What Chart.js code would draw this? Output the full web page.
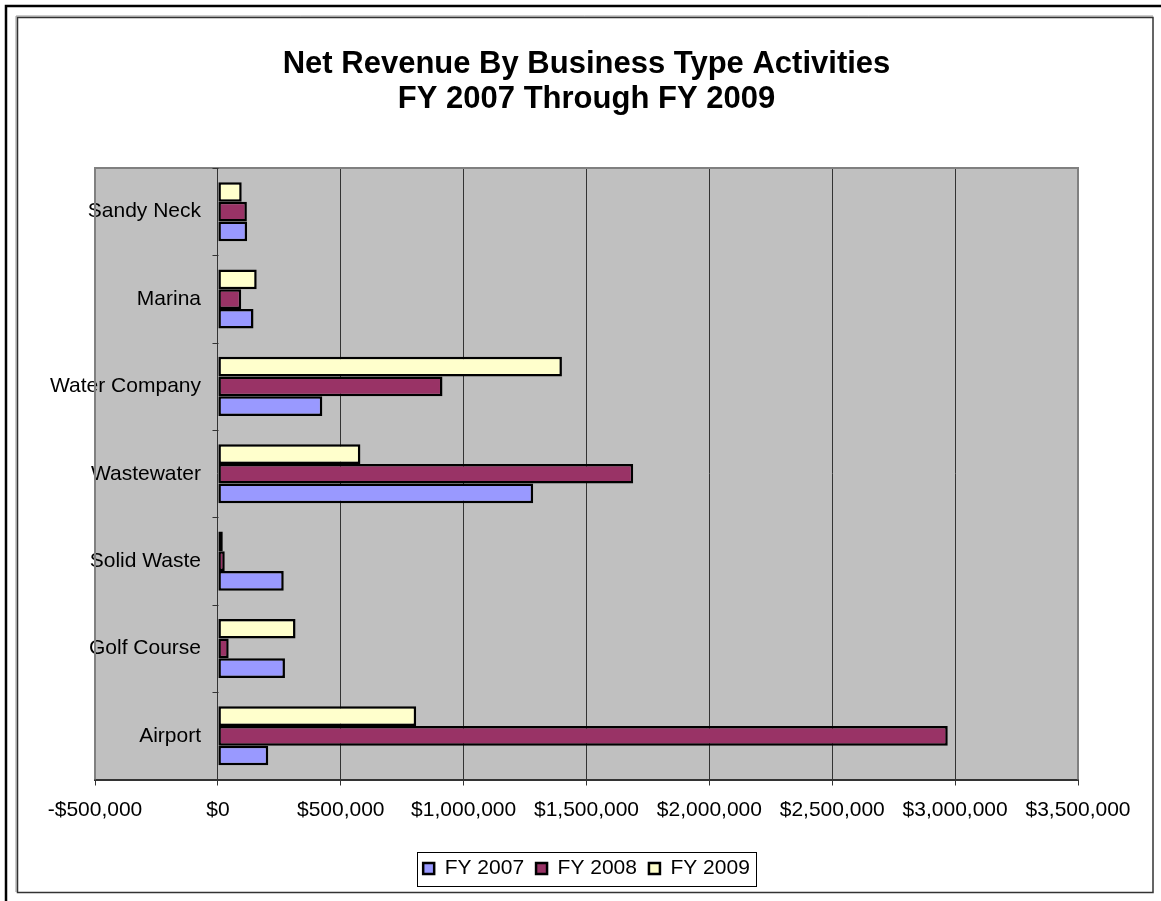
<!DOCTYPE html>
<html>
<head>
<meta charset="utf-8">
<title>Net Revenue By Business Type Activities</title>
<script src="https://cdn.jsdelivr.net/npm/chart.js@4.4.1/dist/chart.umd.min.js"></script>
<style>
    html, body { margin: 0; padding: 0; background: #fff; }
    #chart { display: block; }
</style>
</head>
<body>
<canvas id="chart" width="1161" height="901"></canvas>
<script>
// Data (bottom category first)
const categories = ['Airport', 'Golf Course', 'Solid Waste', 'Wastewater', 'Water Company', 'Marina', 'Sandy Neck'];
const fy2007 = [205000, 273000, 268000, 1283000, 425000, 145000, 119000];
const fy2008 = [2970000, 44000, 28000, 1690000, 914000, 95000, 118000];
const fy2009 = [807000, 316000, 20000, 580000, 1400000, 158000, 97000];
const seriesNames = ['FY 2007', 'FY 2008', 'FY 2009'];
const titleLines = ['Net Revenue By Business Type Activities', 'FY 2007 Through FY 2009'];
const xMin = -500000;
const xMax = 3500000;
const xStep = 500000;

const FONT = "Arial, 'Liberation Sans', sans-serif";
const PLOT_LEFT = 95;
const LABEL_RIGHT = 201;

// width of the widest category label, so the mirrored labels end at LABEL_RIGHT
const measure = document.createElement('canvas').getContext('2d');
measure.font = `21px ${FONT}`;
const widestLabel = Math.max(...categories.map(c => measure.measureText(c).width));

function money(v) {
    const s = '$' + Math.abs(v).toLocaleString('en-US');
    return v < 0 ? '-' + s : s;
}

const backdrop = {
    id: 'backdrop',
    beforeDraw(chart) {
        const { ctx, chartArea: a } = chart;
        ctx.save();
        ctx.fillStyle = '#fff';
        ctx.fillRect(0, 0, chart.width, chart.height);

        // page frame (left/top only)
        ctx.strokeStyle = '#000';
        ctx.lineWidth = 2.5;
        ctx.beginPath();
        ctx.moveTo(6, chart.height);
        ctx.lineTo(6, 6);
        ctx.lineTo(chart.width, 6);
        ctx.stroke();

        // chart area frame
        ctx.strokeStyle = '#999';
        ctx.lineWidth = 1;
        ctx.beginPath();
        ctx.moveTo(16, 892);
        ctx.lineTo(16, 16);
        ctx.lineTo(1153, 16);
        ctx.stroke();
        ctx.strokeStyle = '#333';
        ctx.lineWidth = 1.5;
        ctx.strokeRect(17.5, 17.5, 1135.5, 875);

        ctx.fillStyle = '#c0c0c0';
        ctx.fillRect(a.left, a.top, a.right - a.left, a.bottom - a.top);
        ctx.restore();
    },
    beforeDatasetsDraw(chart) {
        const { ctx, chartArea: a, scales } = chart;
        ctx.save();
        ctx.strokeStyle = '#808080';
        ctx.lineWidth = 2;
        ctx.beginPath();
        ctx.moveTo(a.left, a.bottom);
        ctx.lineTo(a.left, a.top);
        ctx.lineTo(a.right, a.top);
        ctx.lineTo(a.right, a.bottom);
        ctx.stroke();

        // category axis tick marks at $0
        const x0 = Math.round(scales.x.getPixelForValue(0)) + 0.5;
        ctx.strokeStyle = '#333';
        ctx.lineWidth = 1;
        ctx.beginPath();
        for (let i = 0; i <= categories.length; i++) {
            const y = Math.round(scales.y.getPixelForValue(i - 0.5)) + 0.5;
            ctx.moveTo(x0 - 6, y);
            ctx.lineTo(x0, y);
        }
        ctx.stroke();
        ctx.restore();
    },
    afterDraw(chart) {
        const boxes = chart.legend.legendHitBoxes;
        if (!boxes || !boxes.length) return;
        const left = Math.min(...boxes.map(b => b.left)) - 6;
        const right = Math.max(...boxes.map(b => b.left + b.width)) + 6;
        const mid = boxes[0].top + boxes[0].height / 2;
        const { ctx } = chart;
        ctx.save();
        ctx.strokeStyle = '#000';
        ctx.lineWidth = 1;
        ctx.strokeRect(Math.round(left) + 0.5, Math.round(mid - 17) + 0.5, Math.round(right - left), 34);
        ctx.restore();
    }
};

const colors = ['#9999ff', '#993366', '#ffffcc'];
const values = [fy2007, fy2008, fy2009];

// Chart.js puts the first dataset on top of each group; Excel puts FY 2007 at the bottom
const datasets = seriesNames.map((name, i) => ({
    label: name,
    data: values[i],
    backgroundColor: colors[i],
    borderColor: '#000',
    borderWidth: 2.5,
    borderSkipped: false,
    categoryPercentage: 0.676,
    barPercentage: 1.0
})).reverse();

new Chart(document.getElementById('chart'), {
    type: 'bar',
    data: { labels: categories, datasets },
    plugins: [backdrop],
    options: {
        indexAxis: 'y',
        responsive: false,
        animation: false,
        devicePixelRatio: 1,
        layout: { padding: { left: PLOT_LEFT, right: 83, top: 46.5, bottom: 12 } },
        scales: {
            x: {
                type: 'linear',
                min: xMin,
                max: xMax,
                afterBuildTicks(scale) {
                    scale.ticks = [];
                    for (let v = xMin; v <= xMax; v += xStep) scale.ticks.push({ value: v });
                },
                afterFit(scale) { scale.height = 66.5; },
                grid: {
                    color: ctx => (ctx.index === 0 || ctx.index === 8) ? 'rgba(0,0,0,0)' : '#333',
                    tickColor: '#333',
                    tickLength: 6,
                    lineWidth: 1
                },
                border: { display: true, color: '#333', width: 2 },
                ticks: {
                    color: '#000',
                    font: { family: FONT, size: 21 },
                    padding: 12,
                    maxRotation: 0,
                    autoSkip: false,
                    callback: v => money(v)
                }
            },
            y: {
                reverse: true,
                afterFit(scale) { scale.width = 0; },
                grid: { display: false },
                border: { display: false },
                ticks: {
                    mirror: true,
                    crossAlign: 'far',
                    padding: LABEL_RIGHT - PLOT_LEFT - widestLabel,
                    color: '#000',
                    font: { family: FONT, size: 21 }
                }
            }
        },
        plugins: {
            title: {
                display: true,
                text: titleLines,
                color: '#000',
                font: { family: FONT, size: 31, weight: 'bold', lineHeight: 35 / 31 },
                padding: { top: 0, bottom: 51.5 }
            },
            legend: {
                position: 'bottom',
                reverse: true,
                labels: {
                    color: '#000',
                    font: { family: FONT, size: 21 },
                    boxWidth: 11,
                    boxHeight: 11,
                    padding: 12
                }
            },
            tooltip: { enabled: false }
        }
    }
});
</script>
</body>
</html>
